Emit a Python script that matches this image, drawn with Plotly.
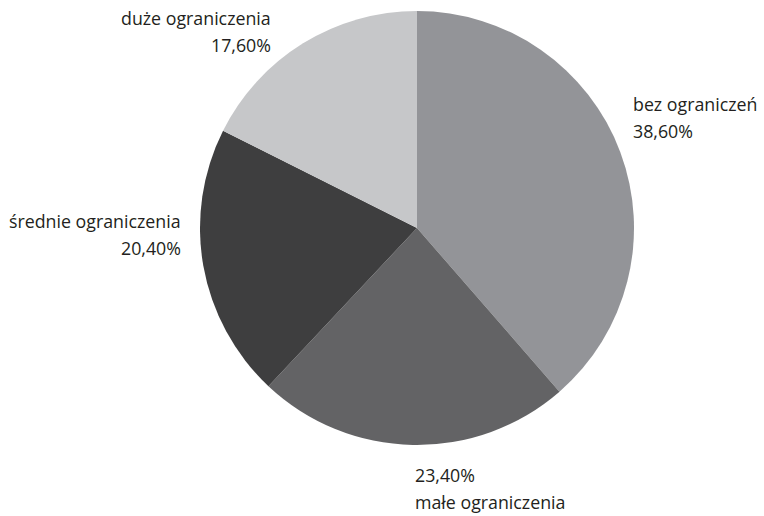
import plotly.graph_objects as go

# Survey shares of respondents by level of limitation
categories = ["bez ograniczeń", "małe ograniczenia", "średnie ograniczenia", "duże ograniczenia"]
shares = [38.6, 23.4, 20.4, 17.6]
slice_colors = ["#939498", "#636365", "#3e3e3f", "#c6c7c9"]

W, H = 764, 516
TEXT_COLOR = "#231f20"
FONT = "Open Sans"

def fmt(v):
    return f"{v:.2f}".replace(".", ",") + "%"

fig = go.Figure(
    go.Pie(
        labels=categories,
        values=shares,
        sort=False,
        direction="clockwise",
        rotation=0,
        marker=dict(colors=slice_colors, line=dict(width=0)),
        textinfo="none",
        hoverinfo="label+percent",
        showlegend=False,
        domain=dict(x=[(417 - 217) / W, (417 + 217) / W],
                    y=[1 - 445 / H, 1 - 11 / H]),
    )
)

# label layout: (first line, second line, x px, first line y px, anchor)
label_spots = [
    (categories[0], fmt(shares[0]), 631, 104, "left"),
    (fmt(shares[1]), categories[1], 413, 475, "left"),
    (categories[2], fmt(shares[2]), 183, 221, "right"),
    (categories[3], fmt(shares[3]), 273, 18, "right"),
]
LINE_GAP = 27

annotations = []
for l1, l2, x, y, anchor in label_spots:
    for i, txt in enumerate((l1, l2)):
        annotations.append(dict(
            text=txt, x=x / W, y=1 - (y + i * LINE_GAP) / H,
            xref="paper", yref="paper", xanchor=anchor, yanchor="middle",
            showarrow=False, font=dict(family=FONT, size=17.8, color=TEXT_COLOR),
        ))

fig.update_layout(
    width=W, height=H,
    margin=dict(l=0, r=0, t=0, b=0),
    paper_bgcolor="white", plot_bgcolor="white",
    annotations=annotations,
)

fig.write_html("out.html")
